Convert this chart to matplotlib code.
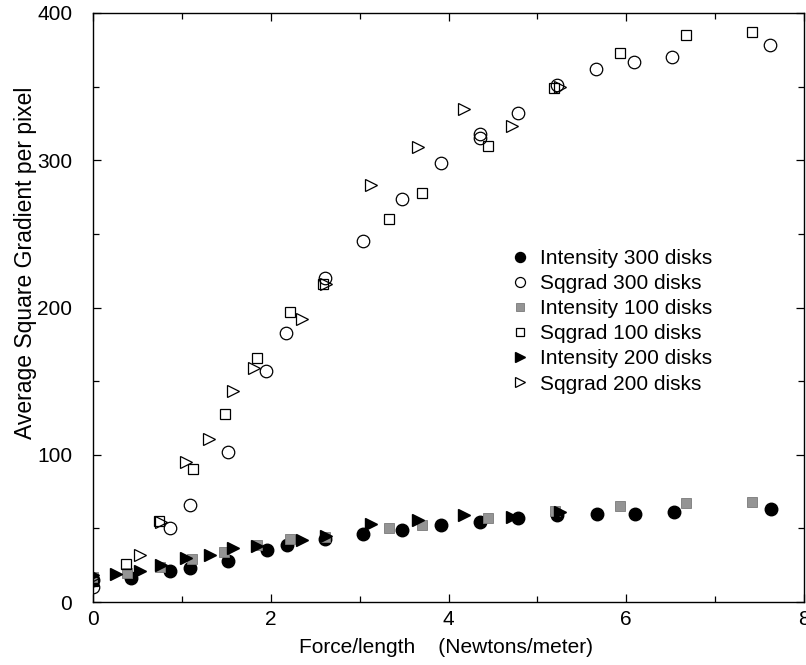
import matplotlib
matplotlib.use("Agg")
import matplotlib.pyplot as plt
from matplotlib.ticker import MultipleLocator

plt.rcParams['font.family'] = ['Liberation Sans', 'DejaVu Sans']

# Intensity 300 disks (filled circles)
int300_x = [0.0, 0.43, 0.87, 1.09, 1.52, 1.96, 2.18, 2.61, 3.04, 3.48, 3.91, 4.35, 4.78, 5.22, 5.67, 6.10, 6.54, 7.63]
int300_y = [15, 16, 21, 23, 28, 35, 39, 43, 46, 49, 52, 54, 57, 59, 60, 60, 61, 63]
# Sqgrad 300 disks (open circles)
sq300_x = [0.0, 0.87, 1.09, 1.52, 1.95, 2.17, 2.61, 3.04, 3.48, 3.91, 4.35, 4.35, 4.78, 5.22, 5.66, 6.09, 6.52, 7.62]
sq300_y = [10, 50, 66, 102, 157, 183, 220, 245, 274, 298, 318, 315, 332, 351, 362, 367, 370, 378]
# Intensity 100 disks (gray squares)
int100_x = [0.0, 0.38, 0.75, 1.11, 1.47, 1.84, 2.22, 2.61, 3.33, 3.70, 4.45, 5.20, 5.93, 6.67, 7.42]
int100_y = [17, 20, 24, 29, 34, 39, 43, 44, 50, 52, 57, 62, 65, 67, 68]
# Sqgrad 100 disks (open squares)
sq100_x = [0.0, 0.37, 0.74, 1.12, 1.48, 1.85, 2.22, 2.59, 3.33, 3.70, 4.44, 5.19, 5.93, 6.67, 7.41]
sq100_y = [14, 26, 55, 90, 128, 166, 197, 216, 260, 278, 310, 349, 373, 385, 387]
# Intensity 200 disks (filled right triangles)
int200_x = [0.0, 0.26, 0.53, 0.77, 1.05, 1.32, 1.57, 1.84, 2.35, 2.62, 3.13, 3.66, 4.18, 4.71, 5.25]
int200_y = [18, 19, 21, 25, 30, 32, 37, 38, 42, 45, 53, 56, 59, 58, 61]
# Sqgrad 200 disks (open right triangles)
sq200_x = [0.0, 0.53, 0.77, 1.05, 1.31, 1.57, 1.81, 2.35, 2.62, 3.13, 3.66, 4.18, 4.71, 5.25]
sq200_y = [16, 32, 54, 95, 111, 143, 159, 192, 216, 283, 309, 335, 323, 350]

x_ticks = [0, 2, 4, 6, 8]
y_ticks = [0, 100, 200, 300, 400]

fig = plt.figure(figsize=(8.06, 6.65), dpi=100)
ax = fig.add_axes([93/806, 63/665, (804-93)/806, (602-13)/665])

ax.plot(int300_x, int300_y, 'o', ms=9, mfc='black', mec='black', ls='none', label='Intensity 300 disks')
ax.plot(sq300_x, sq300_y, 'o', ms=9, mfc='none', mec='black', mew=0.9, ls='none', label='Sqgrad 300 disks')
ax.plot(int100_x, int100_y, 's', ms=6.5, mfc='0.58', mec='0.48', mew=0.6, ls='none', label='Intensity 100 disks')
ax.plot(sq100_x, sq100_y, 's', ms=7, mfc='none', mec='black', mew=0.9, ls='none', label='Sqgrad 100 disks')
ax.plot(int200_x, int200_y, '>', ms=8.5, mfc='black', mec='black', ls='none', label='Intensity 200 disks')
ax.plot(sq200_x, sq200_y, '>', ms=8.5, mfc='none', mec='black', mew=0.9, ls='none', label='Sqgrad 200 disks')

ax.set_xlim(0, 8)
ax.set_ylim(0, 400)
ax.set_xticks(x_ticks)
ax.set_yticks(y_ticks)
ax.xaxis.set_minor_locator(MultipleLocator(1))
ax.yaxis.set_minor_locator(MultipleLocator(50))
ax.tick_params(which='both', direction='in', top=True, right=True, labelsize=15, width=0.9)
ax.tick_params(which='major', length=6)
ax.tick_params(which='minor', length=4)
ax.tick_params(axis='x', pad=6)
ax.tick_params(axis='y', pad=15)
for s in ax.spines.values():
    s.set_linewidth(1.0)

ax.set_xlabel('Force/length    (Newtons/meter)', fontsize=15)
ax.set_ylabel('Average Square Gradient per pixel', fontsize=16.5)
ax.xaxis.set_label_coords(0.497, (602 - 638) / 589)
ax.yaxis.set_label_coords((37 - 93) / 711, (602 - 263) / 589)

leg = ax.legend(loc='upper left', bbox_to_anchor=(501/806, 1 - 241/665), bbox_transform=fig.transFigure,
                frameon=False, fontsize=15, handlelength=1.0, handletextpad=0.45,
                labelspacing=0.29, borderaxespad=0, markerscale=0.8, numpoints=1)

fig.savefig('out.png', dpi=100)
